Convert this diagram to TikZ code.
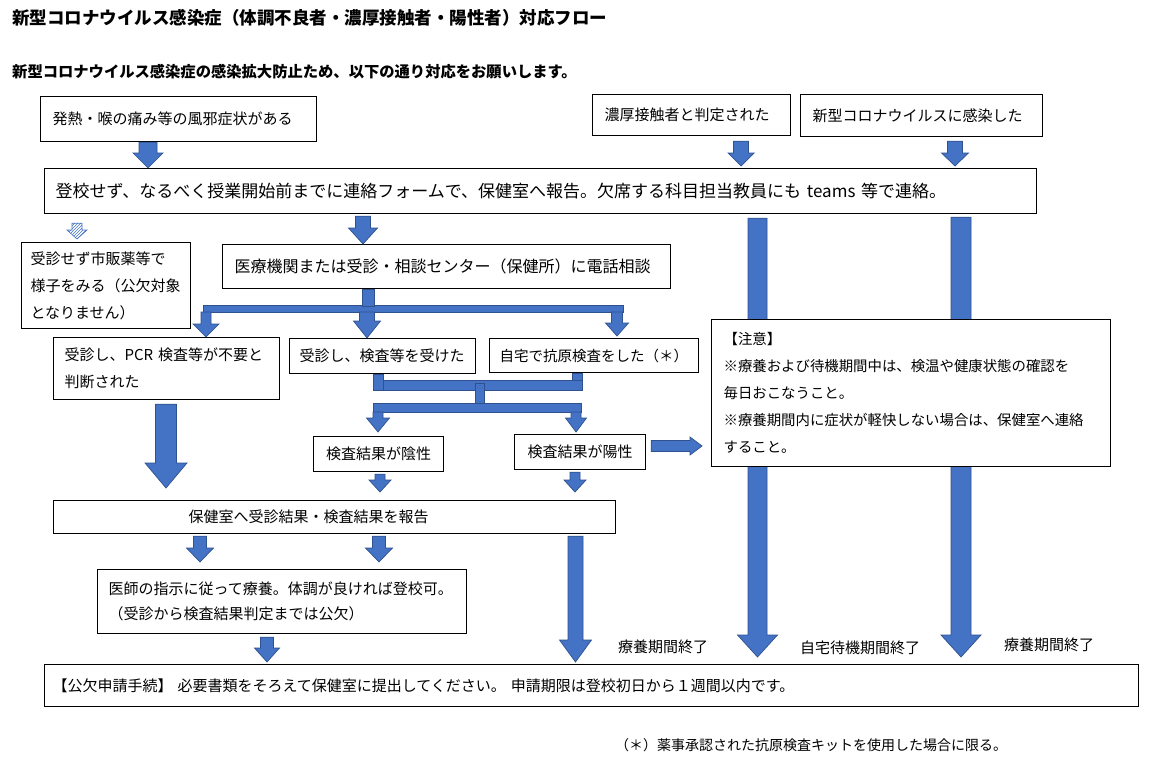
\documentclass[tikz,border=0pt]{standalone}
\usepackage{fontspec}
\setmainfont{Noto Sans CJK JP}
\usetikzlibrary{calc,patterns}

\definecolor{arrowblue}{HTML}{4472C4}
\definecolor{arrowline}{HTML}{2F528F}

\newcommand{\fs}[2]{\fontsize{#1}{#2}\selectfont}

% block arrows: [style]{x or y}{start}{end}{shaft}{head}{head length}
\newcommand{\downblock}[7][blockarrow]{%
  \path (#3) coordinate (p0) (#4) coordinate (q0);
  \path (#2,0 |- p0) coordinate (p) (#2,0 |- q0) coordinate (q);
  \filldraw[#1] ($(p)+({-(#5)/2},0)$) -- ($(p)+({(#5)/2},0)$)
    -- ($(q)+({(#5)/2},{-(#7)})$) -- ($(q)+({(#6)/2},{-(#7)})$) -- (q)
    -- ($(q)+({-(#6)/2},{-(#7)})$) -- ($(q)+({-(#5)/2},{-(#7)})$) -- cycle;}
\newcommand{\rightblock}[7][blockarrow]{%
  \path (#3) coordinate (p0) (#4) coordinate (q0);
  \path (p0 |- 0,#2) coordinate (p) (q0 |- 0,#2) coordinate (q);
  \filldraw[#1] ($(p)+(0,{-(#5)/2})$) -- ($(q)+({-(#7)},{-(#5)/2})$)
    -- ($(q)+({-(#7)},{-(#6)/2})$) -- (q) -- ($(q)+({-(#7)},{(#6)/2})$)
    -- ($(q)+({-(#7)},{(#5)/2})$) -- ($(p)+(0,{(#5)/2})$) -- cycle;}

\begin{document}
\begin{tikzpicture}[x=1pt,y=-1pt,
  box/.style={draw, fill=white, line width=1.2pt, anchor=north west, align=left,
    inner xsep=12pt, inner ysep=0pt, font=\fs{15}{27}},
  blockarrow/.style={fill=arrowblue, draw=arrowline, line width=0.7pt},
  hatcharrow/.style={draw=arrowblue, line width=0.6pt, pattern=north east lines, pattern color=arrowblue},
  endlabel/.style={inner sep=0pt, font=\fs{15}{18}}]
\path[use as bounding box, fill=white] (0,0) rectangle (1149,760);

\node[anchor=west, inner sep=0pt, font=\bfseries\fs{17.5}{20}] (title) at (12,18) {新型コロナウイルス感染症（体調不良者・濃厚接触者・陽性者）対応フロー};
\node[anchor=west, inner sep=0pt, font=\bfseries\fs{15.3}{18}] (intro) at (12,72) {新型コロナウイルス感染症の感染拡大防止ため、以下の通り対応をお願いします。};

\node[box, text width=252pt, minimum height=45pt] (fever) at (40,96) {発熱・喉の痛み等の風邪症状がある};
\node[box, text width=174pt, minimum height=41pt] (contact) at (592,94) {濃厚接触者と判定された};
\node[box, text width=218pt, minimum height=42pt] (infected) at (800,94) {新型コロナウイルスに感染した};
\node[box, text width=970pt, minimum height=45pt, inner xsep=11pt, font=\fs{17}{20}] (report) at (44,168) {登校せず、なるべく授業開始前までに連絡フォームで、保健室へ報告。欠席する科目担当教員にも teams 等で連絡。};
\node[box, text width=151pt, minimum height=86pt, inner xsep=9pt] (selfcare) at (21,242) {受診せず市販薬等で\\様子をみる（公欠対象\\となりません）};
\node[box, text width=424pt, minimum height=44pt, font=\fs{16}{20}] (consult) at (222,244) {医療機関または受診・相談センター（保健所）に電話相談};
\node[box, text width=204pt, minimum height=62pt, inner xsep=11pt] (nopcr) at (53,337) {受診し、PCR 検査等が不要と\\判断された};
\node[box, text width=166pt, minimum height=35pt, inner xsep=10pt] (tested) at (289,338) {受診し、検査等を受けた};
\node[box, text width=189pt, minimum height=34pt, inner xsep=10pt, font=\fs{14.5}{18}] (selftest) at (489,338) {自宅で抗原検査をした（＊）};
\node[box, text width=110pt, minimum height=35pt, inner xsep=10pt, align=center] (neg) at (313,436) {検査結果が陰性};
\node[box, text width=111pt, minimum height=35pt, inner xsep=10pt, align=center] (pos) at (514,434) {検査結果が陽性};
\node[box, text width=538pt, minimum height=33pt] (tell) at (53,500) {\hspace*{123pt}保健室へ受診結果・検査結果を報告};
\node[box, text width=347pt, minimum height=64pt, inner xsep=11pt, font=\fs{15}{25}] (doctor) at (97,569) {医師の指示に従って療養。体調が良ければ登校可。\\（受診から検査結果判定までは公欠）};
\node[box, text width=1078pt, minimum height=42pt, inner xsep=8pt] (apply) at (44,664) {【公欠申請手続】 必要書類をそろえて保健室に提出してください。 申請期限は登校初日から１週間以内です。};

\downblock{148}{fever.south}{report.north}{18}{30}{15}
\downblock{741}{$(contact.south)+(0,5)$}{$(report.north)+(0,-2)$}{15}{26}{13}
\downblock{955}{$(infected.south)+(0,4)$}{$(report.north)+(0,-2)$}{15}{27}{13}
\downblock[hatcharrow]{77}{$(report.south)+(0,9)$}{$(selfcare.north)+(0,-3)$}{10}{20}{9}
\downblock{363}{$(report.south)+(0,2)$}{consult.north}{15}{29}{16}
\downblock{757.5}{$(report.south)+(0,4)$}{$(apply.north)+(0,-7)$}{19}{40}{22}
\downblock{961}{$(report.south)+(0,3)$}{$(apply.north)+(0,-7)$}{20}{40}{22}

\filldraw[blockarrow] (203,305) rectangle (623,312);
\filldraw[blockarrow] (362,0 |- consult.south) rectangle (374,306);
\downblock{206}{206,312}{nopcr.north}{10}{26}{13}
\downblock{367}{367,312}{tested.north}{15}{27}{17}
\downblock{617}{617,312}{$(selftest.north)+(0,-2)$}{11}{23}{13}

\filldraw[blockarrow] (373,380) rectangle (582,390);
\filldraw[blockarrow] (373,0 |- tested.south) rectangle (383,390);
\filldraw[blockarrow] (572,0 |- selftest.south) rectangle (582,380);
\filldraw[blockarrow] (475,383) rectangle (484,407);
\filldraw[blockarrow] (373,403) rectangle (581,412);
\downblock{378}{378,412}{$(neg.north)+(0,-4)$}{10}{23}{14}
\downblock{576}{576,412}{$(pos.north)+(0,-2)$}{10}{21}{14}

\node[box, text width=375pt, minimum height=147pt, font=\fs{14.4}{27}] (caution) at (711,319) {【注意】\\※療養および待機期間中は、検温や健康状態の確認を\\毎日おこなうこと。\\※療養期間内に症状が軽快しない場合は、保健室へ連絡\\すること。};
\rightblock{446}{$(pos.east)+(5,0)$}{$(caution.west)+(-9,0)$}{11}{18}{12}

\downblock{166}{$(nopcr.south)+(0,4)$}{$(tell.north)+(0,-12)$}{21}{42}{25}
\downblock{380}{$(neg.south)+(0,2)$}{$(tell.north)+(0,-8)$}{10}{22}{12}
\downblock{575}{$(pos.south)+(0,2)$}{$(tell.north)+(0,-8)$}{10}{22}{12}
\downblock{200}{$(tell.south)+(0,2)$}{$(doctor.north)+(0,-7)$}{13}{27}{14}
\downblock{379}{$(tell.south)+(0,2)$}{$(doctor.north)+(0,-7)$}{13}{27}{14}
\downblock{575.5}{$(tell.south)+(0,2)$}{$(apply.north)+(0,-2)$}{15}{32}{22}
\downblock{267}{$(doctor.south)+(0,3)$}{$(apply.north)+(0,-2)$}{13}{25}{14}

\node[endlabel] (end1) at (663,647) {療養期間終了};
\node[endlabel] (end2) at (860,648) {自宅待機期間終了};
\node[endlabel] (end3) at (1049,645) {療養期間終了};
\node[anchor=west, inner sep=0pt, font=\fs{14}{16}] (footnote) at (615,745) {（＊）薬事承認された抗原検査キットを使用した場合に限る。};
\end{tikzpicture}
\end{document}
